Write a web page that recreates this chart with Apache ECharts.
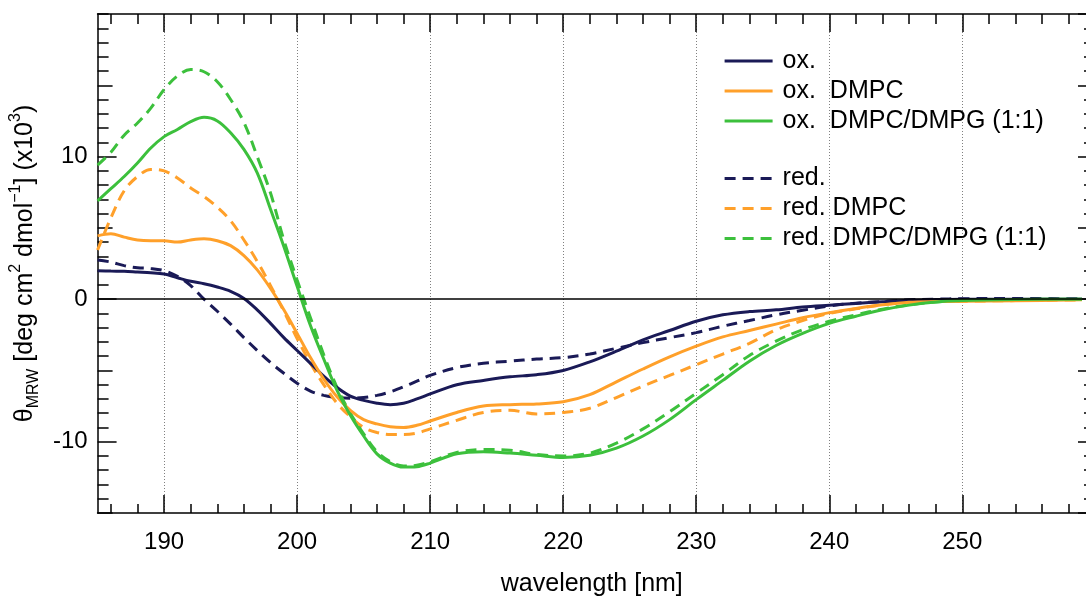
<!DOCTYPE html>
<html>
<head>
<meta charset="utf-8">
<script src="https://cdn.jsdelivr.net/npm/echarts@6/dist/echarts.min.js"></script>
<style>
  html, body { margin: 0; padding: 0; background: #fff; }
  #chart { width: 1086px; height: 602px; }
</style>
</head>
<body>
<div id="chart"></div>
<script>
// CD spectra, mean residue ellipticity (x10^3) versus wavelength in nm
const wavelength = [185,186,187,188,189,190,191,192,193,194,195,196,197,198,199,200,
  201,202,203,204,205,206,207,208,209,210,212,214,216,218,220,222,224,226,228,230,
  232,234,236,238,240,242,244,246,248,250,254,259];

const oxBuffer = [2.0,1.97,1.95,1.9,1.85,1.76,1.5,1.25,1.08,0.85,0.55,0.05,-0.75,-1.7,-2.7,-3.6,
  -4.5,-5.4,-6.2,-6.8,-7.1,-7.3,-7.4,-7.3,-7.0,-6.65,-6.0,-5.7,-5.45,-5.3,-5.0,-4.4,-3.65,-2.85,-2.2,-1.55,
  -1.1,-0.87,-0.75,-0.55,-0.42,-0.3,-0.18,-0.08,-0.03,0,0,0];

const oxDMPC = [4.44,4.58,4.35,4.15,4.1,4.1,4.0,4.15,4.23,4.1,3.75,3.05,2.05,0.75,-0.75,-2.4,
  -4.1,-5.6,-6.85,-7.8,-8.45,-8.75,-8.95,-9.0,-8.85,-8.55,-7.95,-7.5,-7.4,-7.35,-7.2,-6.7,-5.8,-4.9,-4.05,-3.3,
  -2.65,-2.2,-1.75,-1.3,-0.95,-0.65,-0.4,-0.22,-0.17,-0.15,-0.12,-0.05];

const oxDMPCDMPG = [6.9,7.75,8.6,9.55,10.6,11.4,11.9,12.45,12.75,12.5,11.67,10.5,8.85,6.3,3.7,0.9,
  -1.85,-4.2,-6.4,-8.15,-9.6,-10.85,-11.5,-11.78,-11.75,-11.5,-10.85,-10.7,-10.8,-10.95,-11.1,-10.95,-10.45,-9.6,-8.45,-7.05,
  -5.7,-4.35,-3.25,-2.4,-1.7,-1.2,-0.75,-0.42,-0.2,-0.1,-0.03,0];

const redBuffer = [2.75,2.6,2.35,2.2,2.15,2.0,1.6,0.95,0.0,-0.85,-1.75,-2.7,-3.6,-4.45,-5.2,-5.9,
  -6.45,-6.75,-6.9,-6.95,-6.9,-6.75,-6.5,-6.15,-5.75,-5.35,-4.8,-4.5,-4.35,-4.2,-4.1,-3.85,-3.45,-3.05,-2.7,-2.35,
  -1.9,-1.5,-1.1,-0.78,-0.48,-0.28,-0.17,-0.05,0.0,0.03,0.05,0.02];

const redDMPC = [3.45,5.7,7.6,8.6,9.1,9.0,8.5,7.8,7.2,6.45,5.5,4.15,2.65,0.95,-0.85,-2.77,
  -4.5,-6.0,-7.3,-8.25,-9.0,-9.35,-9.5,-9.5,-9.4,-9.1,-8.5,-7.95,-7.8,-8.05,-7.95,-7.65,-6.9,-6.1,-5.35,-4.6,
  -3.85,-3.1,-2.15,-1.5,-1.0,-0.68,-0.4,-0.22,-0.17,-0.15,-0.1,-0.05];

const redDMPCDMPG = [9.4,10.3,11.5,12.35,13.4,14.7,15.65,16.1,15.95,15.25,14.0,12.4,10.0,7.44,4.15,1.34,
  -1.3,-3.9,-6.2,-8.0,-9.45,-10.7,-11.4,-11.7,-11.65,-11.4,-10.75,-10.55,-10.6,-10.9,-11.0,-10.8,-10.1,-9.1,-7.9,-6.6,
  -5.3,-3.95,-2.95,-2.15,-1.55,-1.1,-0.7,-0.4,-0.2,-0.1,-0.03,0];

const seriesNames = ['ox.', 'ox.  DMPC', 'ox.  DMPC/DMPG (1:1)', 'red.', 'red. DMPC', 'red. DMPC/DMPG (1:1)'];
const seriesValues = [oxBuffer, oxDMPC, oxDMPCDMPG, redBuffer, redDMPC, redDMPCDMPG];
const seriesColors = ['#1a1a57', '#ffa02a', '#3cc03c', '#1a1a57', '#ffa02a', '#3cc03c'];
const seriesDashed = [false, false, false, true, true, true];

// tick positions
const xMajor = [190, 200, 210, 220, 230, 240, 250];
const xMinor = [];
for (let v = 186; v <= 258; v += 2) if (v % 10 !== 0) xMinor.push(v);
const yMajor = [-10, 0, 10];
const yMid = [-15, -5, 5, 15];
const yMinor = [];
for (let v = -15; v <= 20; v++) yMinor.push(v);
const yRightMajor = [-15, -10, -5, 0, 5, 10, 15, 20];

const X_MIN = 185, X_MAX = 259.3, Y_MIN = -15, Y_MAX = 20;
const FONT = '"Liberation Sans", Arial, Helvetica, sans-serif';

function tickAxis(position, values, length, opts) {
  const isX = position === 'top' || position === 'bottom';
  return Object.assign({
    type: 'value',
    position: position,
    min: isX ? X_MIN : Y_MIN,
    max: isX ? X_MAX : Y_MAX,
    axisLine: { show: false, onZero: false },
    axisTick: { show: true, inside: true, length: length, customValues: values,
                lineStyle: { color: '#000', width: 1.5 } },
    axisLabel: { show: false },
    splitLine: { show: false }
  }, opts || {});
}

const chart = echarts.init(document.getElementById('chart'), null, { renderer: 'canvas' });

const series = seriesNames.map((name, i) => ({
  name: name,
  type: 'line',
  xAxisIndex: 0,
  yAxisIndex: 0,
  data: wavelength.map((w, j) => [w, seriesValues[i][j]]),
  smooth: 0.35,
  symbol: 'none',
  showSymbol: false,
  lineStyle: { color: seriesColors[i], width: 3, type: seriesDashed[i] ? [11, 7] : 'solid' },
  itemStyle: { color: seriesColors[i] },
  z: 3 + (seriesDashed[i] ? 0 : 1),
  animation: false
}));

// zero reference line
series[0].markLine = {
  silent: true,
  symbol: 'none',
  label: { show: false },
  lineStyle: { color: '#000', width: 1.5, type: 'solid' },
  data: [{ yAxis: 0 }],
  animation: false
};

const legendCommon = {
  orient: 'vertical',
  left: 723,
  itemWidth: 48,
  itemHeight: 14,
  itemGap: 5,
  padding: 0,
  selectedMode: false,
  itemStyle: { opacity: 0 },
  lineStyle: { width: 3.2 },
  textStyle: { fontSize: 25, color: '#000', fontFamily: FONT, padding: [0, 0, 0, 5], lineHeight: 24 }
};

const option = {
  backgroundColor: '#fff',
  animation: false,
  grid: { left: 97, top: 14, width: 991, height: 499, containLabel: false },
  legend: [
    Object.assign({}, legendCommon, { top: 48.5, data: seriesNames.slice(0, 3) }),
    Object.assign({}, legendCommon, { top: 166, data: seriesNames.slice(3) })
  ],
  xAxis: [
    {
      type: 'value',
      position: 'bottom',
      min: X_MIN, max: X_MAX,
      axisLine: { show: true, onZero: false, lineStyle: { color: '#000', width: 1.5 } },
      axisTick: { show: true, inside: true, length: 18, customValues: xMajor,
                  lineStyle: { color: '#000', width: 1.5 } },
      axisLabel: { customValues: xMajor, fontSize: 24, color: '#000', fontFamily: FONT, margin: 17 },
      splitLine: { show: true, lineStyle: { color: '#808080', width: 1, type: [1, 2] } },
      name: 'wavelength [nm]',
      nameLocation: 'middle',
      nameGap: 59,
      nameTextStyle: { fontSize: 25, color: '#000', fontFamily: FONT }
    },
    tickAxis('bottom', xMinor, 9),
    tickAxis('top', xMajor, 18, { axisLine: { show: true, onZero: false, lineStyle: { color: '#000', width: 1.5 } } }),
    tickAxis('top', xMinor, 10)
  ],
  yAxis: [
    {
      type: 'value',
      position: 'left',
      min: Y_MIN, max: Y_MAX,
      axisLine: { show: true, onZero: false, lineStyle: { color: '#000', width: 1.5 } },
      axisTick: { show: true, inside: true, length: 19, customValues: yMajor,
                  lineStyle: { color: '#000', width: 1.5 } },
      axisLabel: { customValues: yMajor, fontSize: 24, color: '#000', fontFamily: FONT, margin: 10 },
      splitLine: { show: false },
      name: '{t|θ}{sub|MRW}{t| [deg cm}{sup|2}{t| dmol}{sup|−1}{t|] (x10}{sup|3}{t|)}',
      nameLocation: 'middle',
      nameRotate: 90,
      nameGap: 36,
      nameTextStyle: {
        color: '#000',
        fontFamily: FONT,
        rich: {
          t: { fontSize: 25, fontFamily: FONT, color: '#000', lineHeight: 34 },
          sub: { fontSize: 16, fontFamily: FONT, color: '#000', verticalAlign: 'bottom', lineHeight: 16 },
          sup: { fontSize: 16, fontFamily: FONT, color: '#000', verticalAlign: 'top', lineHeight: 16 }
        }
      }
    },
    tickAxis('left', yMid, 15),
    tickAxis('left', yMinor, 11),
    tickAxis('right', yRightMajor, 8),
    tickAxis('right', yMinor, 2)
  ],
  series: series
};

chart.setOption(option);
</script>
</body>
</html>
